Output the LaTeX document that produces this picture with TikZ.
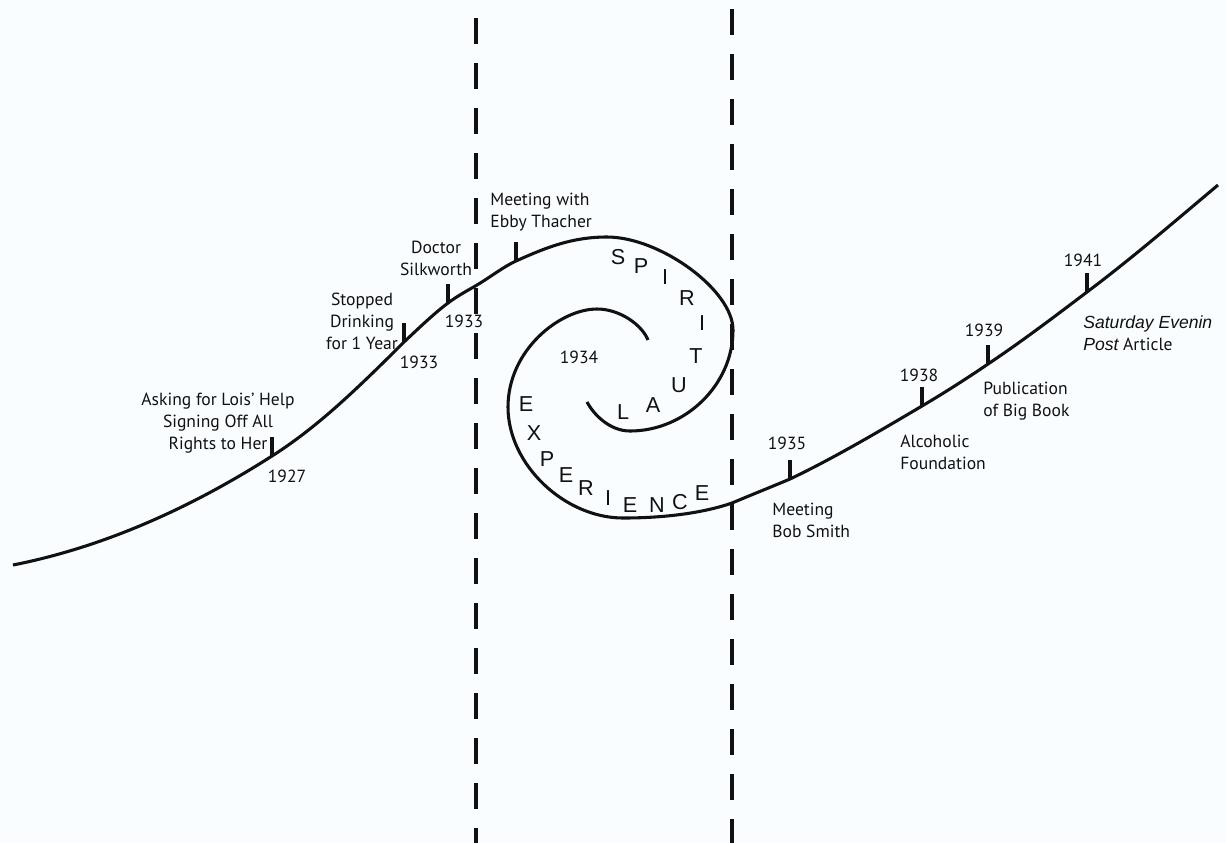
\documentclass[tikz,border=0pt]{standalone}
\usepackage{fontspec}
\setmainfont{PT Sans}
\newfontfamily\arialfont{Liberation Sans}
\usetikzlibrary{positioning}
\definecolor{tlInk}{HTML}{111111}
\definecolor{tlPaper}{HTML}{FAFDFF}

\begin{document}
\begin{tikzpicture}[
  x=0.02cm, y=-0.02cm,
  curve/.style={line width=1.75pt, color=tlInk},
  tickmark/.style={line width=1.8pt, color=tlInk},
  divider/.style={line width=1.9pt, color=tlInk, dash pattern=on 0.52cm off 0.38cm},
  note/.style={font=\fontsize{10}{12.5}\selectfont, inner sep=0pt, text=tlInk},
  year/.style={font=\fontsize{10}{12.5}\selectfont, inner sep=0pt, text=tlInk},
  letter/.style={font=\arialfont\fontsize{12.3}{12}\selectfont, inner sep=0pt, text=tlInk}
]
  \useasboundingbox[fill=tlPaper] (0,0) rectangle (1226,843);

  % Dividers
  \coordinate (divAtop) at (476,18);
  \coordinate (divAbot) at (476,843);
  \coordinate (divBtop) at (732,9);
  \coordinate (divBbot) at (732,843);
  \draw[divider] (divAtop) -- (divAbot);
  \draw[divider] (divBtop) -- (divBbot);

  % Tick points on the curves
  \coordinate (t1927) at (272,456);
  \coordinate (t1933a) at (404,342);
  \coordinate (t1933b) at (448,303);
  \coordinate (tEbby) at (516,261);
  \coordinate (t1935) at (790,479);
  \coordinate (t1938) at (922,406);
  \coordinate (t1939) at (988,364);
  \coordinate (t1941) at (1087,292);

  % Left curve, curling in
  \draw[curve] (13,565) .. controls (99,548) and (186,511) .. (t1927)
    .. controls (316,428) and (354,392) .. (t1933a)
    .. controls (420,327) and (434,313.5) .. (t1933b)
    .. controls (458,295.5) and (466,291.5) .. (477,285)
    .. controls (490,277.3) and (503,267) .. (tEbby)
    .. controls (546,247.5) and (572,237) .. (607,237)
    .. controls (660,237) and (733,290) .. (733,330)
    .. controls (733,385) and (685,431) .. (630,431)
    .. controls (610,431) and (594,415) .. (587,402);
  % Right curve, curling in
  \draw[curve] (648,340) .. controls (642,325) and (620,309) .. (597,309)
    .. controls (560,309) and (508,350) .. (508,407)
    .. controls (508,465) and (565,518) .. (623,518)
    .. controls (660,518) and (700,514) .. (732,503)
    .. controls (751,495) and (771,487) .. (t1935)
    .. controls (834,458) and (878,432) .. (t1938)
    .. controls (944,393) and (966,379) .. (t1939)
    .. controls (1021,342) and (1054,317) .. (t1941)
    .. controls (1131,259) and (1174,222) .. (1218,185);

  % Ticks
  \foreach \t in {t1927, t1933a, t1933b, tEbby, t1935, t1938, t1939, t1941}
    \draw[tickmark] (\t) -- ++(0,-19);

  % Events before
  \node[note, align=center] (lois) at (218,423) {Asking for Lois’ Help\\Signing Off All\\Rights to Her};
  \node[year] (y1927) at (287,476) {1927};
  \node[note, align=center] (stopped) at (362,321) {Stopped\\Drinking\\for 1 Year};
  \node[year] (y1933a) at (419,362) {1933};
  \node[note, align=center] (silk) at (436,258) {Doctor\\Silkworth};
  \node[year] (y1933b) at (464,321) {1933};
  \node[note, align=left, anchor=west] (ebby) at (490,212) {Meeting with\\Ebby Thacher};
  \node[year] (y1934) at (579,357) {1934};

  % Spiral words
  \foreach \ch/\x/\y [count=\i] in {S/618/257, P/641/266, I/665/277, R/687/298,
      I/702/323, T/696/356, U/679/385, A/653/405, L/623/412}
    \node[letter] (spirit\i) at (\x,\y) {\ch};
  \foreach \ch/\x/\y [count=\i] in {E/526/404, X/534/433, P/547/459, E/566/475,
      R/586/488, I/608/498, E/630/505, N/657/505, C/680/502, E/702/493}
    \node[letter] (exper\i) at (\x,\y) {\ch};

  % Events after
  \node[year] (y1935) at (787,443) {1935};
  \node[note, align=left, anchor=west] (bob) at (772,520) {Meeting\\Bob Smith};
  \node[year] (y1938) at (919,375) {1938};
  \node[note, align=left, anchor=west] (found) at (900,452) {Alcoholic\\Foundation};
  \node[year] (y1939) at (984,330) {1939};
  \node[note, align=left, anchor=west] (book) at (983,401) {Publication\\of Big Book};
  \node[year] (y1941) at (1083,260) {1941};
  \node[note, align=left, anchor=west] (post) at (1083,333)
    {{\arialfont\itshape Saturday Evenin}\\{\arialfont\itshape Post} Article};
\end{tikzpicture}
\end{document}
